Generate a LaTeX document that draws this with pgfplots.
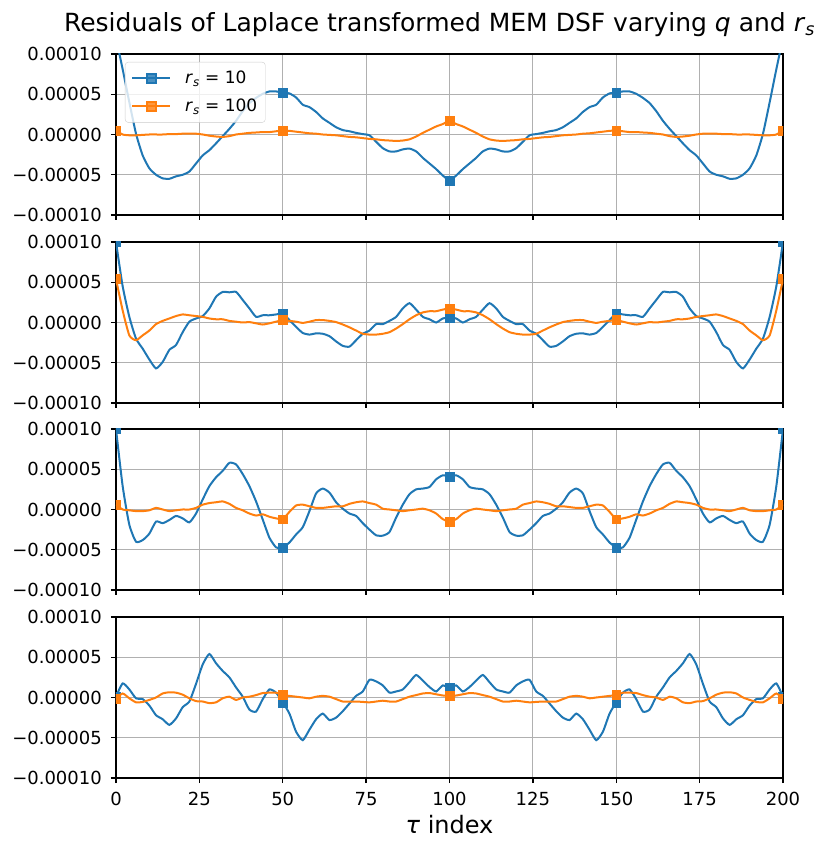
\documentclass[border=0pt]{standalone}
\usepackage{fontspec}
\setmainfont{DejaVu Sans}
\usepackage{pgfplots}
\usepackage{pgfplotstable}
\pgfplotsset{compat=1.18}
\definecolor{mblue}{HTML}{1F77B4}
\definecolor{morange}{HTML}{FF7F0E}
\definecolor{gridgray}{HTML}{B0B0B0}

\pgfplotstableread{
x b o
0 12e-5 0.5e-5
2 8.1e-5 0
4 4.0e-5 -0.1e-5
6 0.1e-5 -0.1e-5
8 -2.6e-5 -0.05e-5
10 -4.2e-5 0
12 -5.0e-5 0
14 -5.45e-5 0
16 -5.5e-5 0.05e-5
18 -5.2e-5 0.05e-5
20 -5.0e-5 0.1e-5
22 -4.6e-5 0.1e-5
24 -3.6e-5 0.1e-5
26 -2.6e-5 0
28 -1.95e-5 -0.15e-5
30 -1.1e-5 -0.25e-5
32 -0.2e-5 -0.3e-5
34 0.7e-5 -0.2e-5
36 1.7e-5 0
38 2.9e-5 0.1e-5
40 3.9e-5 0.2e-5
42 4.55e-5 0.25e-5
44 5.05e-5 0.3e-5
46 5.35e-5 0.3e-5
48 5.35e-5 0.4e-5
50 5.2e-5 0.5e-5
52 5.1e-5 0.45e-5
54 4.6e-5 0.35e-5
56 3.7e-5 0.25e-5
58 3.4e-5 0.15e-5
60 2.8e-5 0.1e-5
62 2.0e-5 0
64 1.45e-5 -0.05e-5
66 0.9e-5 -0.1e-5
68 0.55e-5 -0.2e-5
70 0.4e-5 -0.3e-5
72 0.2e-5 -0.35e-5
74 0.05e-5 -0.45e-5
76 -0.1e-5 -0.55e-5
78 -0.9e-5 -0.6e-5
80 -1.7e-5 -0.7e-5
82 -2.1e-5 -0.75e-5
84 -2.1e-5 -0.8e-5
86 -1.85e-5 -0.75e-5
88 -1.75e-5 -0.6e-5
90 -2.1e-5 -0.25e-5
92 -2.9e-5 0.2e-5
94 -3.6e-5 0.6e-5
96 -4.3e-5 1.0e-5
98 -5.1e-5 1.3e-5
100 -5.7e-5 1.7e-5
102 -5.1e-5 1.3e-5
104 -4.3e-5 1.0e-5
106 -3.6e-5 0.6e-5
108 -2.9e-5 0.2e-5
110 -2.1e-5 -0.25e-5
112 -1.75e-5 -0.6e-5
114 -1.85e-5 -0.75e-5
116 -2.1e-5 -0.8e-5
118 -2.1e-5 -0.75e-5
120 -1.7e-5 -0.7e-5
122 -0.9e-5 -0.6e-5
124 -0.1e-5 -0.55e-5
126 0.05e-5 -0.45e-5
128 0.2e-5 -0.35e-5
130 0.4e-5 -0.3e-5
132 0.55e-5 -0.2e-5
134 0.9e-5 -0.1e-5
136 1.45e-5 -0.05e-5
138 2.0e-5 0
140 2.8e-5 0.1e-5
142 3.4e-5 0.15e-5
144 3.7e-5 0.25e-5
146 4.6e-5 0.35e-5
148 5.1e-5 0.45e-5
150 5.2e-5 0.5e-5
152 5.35e-5 0.4e-5
154 5.35e-5 0.3e-5
156 5.05e-5 0.3e-5
158 4.55e-5 0.25e-5
160 3.9e-5 0.2e-5
162 2.9e-5 0.1e-5
164 1.7e-5 0
166 0.7e-5 -0.2e-5
168 -0.2e-5 -0.3e-5
170 -1.1e-5 -0.25e-5
172 -1.95e-5 -0.15e-5
174 -2.6e-5 0
176 -3.6e-5 0.1e-5
178 -4.6e-5 0.1e-5
180 -5.0e-5 0.1e-5
182 -5.2e-5 0.05e-5
184 -5.5e-5 0.05e-5
186 -5.45e-5 0
188 -5.0e-5 0
190 -4.2e-5 0
192 -2.6e-5 -0.05e-5
194 0.1e-5 -0.1e-5
196 4.0e-5 -0.1e-5
198 8.1e-5 0
200 12e-5 0.5e-5
}\tabA

\pgfplotstableread{
x b o
0 10.0e-5 5.4e-5
2 4.5e-5 1.5e-5
4 0.7e-5 -1.6e-5
6 -2.0e-5 -2.2e-5
8 -3.25e-5 -1.6e-5
10 -4.6e-5 -1.0e-5
12 -5.7e-5 -0.2e-5
14 -4.9e-5 0.2e-5
16 -3.4e-5 0.5e-5
18 -2.8e-5 0.8e-5
20 -1.2e-5 1.0e-5
22 0.1e-5 0.9e-5
24 0.5e-5 0.8e-5
26 0.8e-5 0.7e-5
28 1.75e-5 0.5e-5
30 3.2e-5 0.4e-5
32 3.8e-5 0.4e-5
34 3.75e-5 0.2e-5
36 3.8e-5 0.1e-5
38 2.8e-5 0.0
40 1.75e-5 0.05e-5
42 0.7e-5 -0.1e-5
44 0.9e-5 -0.25e-5
46 0.9e-5 -0.1e-5
48 1.0e-5 0.1e-5
50 1.1e-5 0.3e-5
52 0.3e-5 0.2e-5
54 -0.55e-5 0.1e-5
56 -1.3e-5 -0.05e-5
58 -1.5e-5 0.1e-5
60 -1.35e-5 0.3e-5
62 -1.4e-5 0.3e-5
64 -1.7e-5 0.2e-5
66 -2.35e-5 0.05e-5
68 -2.9e-5 -0.25e-5
70 -3.0e-5 -0.6e-5
72 -2.2e-5 -1.0e-5
74 -1.4e-5 -1.4e-5
76 -1.0e-5 -1.5e-5
78 -0.2e-5 -1.5e-5
80 -0.2e-5 -1.4e-5
82 0.2e-5 -1.2e-5
84 0.7e-5 -0.75e-5
86 1.75e-5 -0.2e-5
88 2.4e-5 0.4e-5
90 1.6e-5 0.9e-5
92 0.7e-5 1.25e-5
94 0.4e-5 1.4e-5
96 0.0 1.4e-5
98 0.5e-5 1.6e-5
100 0.6e-5 1.75e-5
102 0.5e-5 1.6e-5
104 0.0 1.4e-5
106 0.4e-5 1.4e-5
108 0.7e-5 1.25e-5
110 1.6e-5 0.9e-5
112 2.4e-5 0.4e-5
114 1.75e-5 -0.2e-5
116 0.7e-5 -0.75e-5
118 0.2e-5 -1.2e-5
120 -0.2e-5 -1.4e-5
122 -0.2e-5 -1.5e-5
124 -1.0e-5 -1.5e-5
126 -1.4e-5 -1.4e-5
128 -2.2e-5 -1.0e-5
130 -3.0e-5 -0.6e-5
132 -2.9e-5 -0.25e-5
134 -2.35e-5 0.05e-5
136 -1.7e-5 0.2e-5
138 -1.4e-5 0.3e-5
140 -1.35e-5 0.3e-5
142 -1.5e-5 0.1e-5
144 -1.3e-5 -0.05e-5
146 -0.55e-5 0.1e-5
148 0.3e-5 0.2e-5
150 1.1e-5 0.3e-5
152 1.0e-5 0.1e-5
154 0.9e-5 -0.1e-5
156 0.9e-5 -0.25e-5
158 0.7e-5 -0.1e-5
160 1.75e-5 0.05e-5
162 2.8e-5 0.0
164 3.8e-5 0.1e-5
166 3.75e-5 0.2e-5
168 3.8e-5 0.4e-5
170 3.2e-5 0.4e-5
172 1.75e-5 0.5e-5
174 0.8e-5 0.7e-5
176 0.5e-5 0.8e-5
178 0.1e-5 0.9e-5
180 -1.2e-5 1.0e-5
182 -2.8e-5 0.8e-5
184 -3.4e-5 0.5e-5
186 -4.9e-5 0.2e-5
188 -5.7e-5 -0.2e-5
190 -4.6e-5 -1.0e-5
192 -3.25e-5 -1.6e-5
194 -2.0e-5 -2.2e-5
196 0.7e-5 -1.6e-5
198 4.5e-5 1.5e-5
200 10.0e-5 5.4e-5
}\tabB

\pgfplotstableread{
x b o
0 10.0e-5 0.6e-5
2 2.9e-5 0.0
4 -1.9e-5 -0.1e-5
6 -4.0e-5 -0.2e-5
8 -3.8e-5 -0.2e-5
10 -3.0e-5 -0.1e-5
12 -1.5e-5 0.2e-5
14 -1.7e-5 0.0
16 -1.3e-5 -0.2e-5
18 -0.8e-5 -0.1e-5
20 -1.1e-5 0.0
22 -1.6e-5 0.0
24 -0.5e-5 0.2e-5
26 1.25e-5 0.6e-5
28 2.9e-5 0.8e-5
30 4.0e-5 0.9e-5
32 4.8e-5 1.0e-5
34 5.8e-5 0.7e-5
36 5.6e-5 0.2e-5
38 4.4e-5 -0.1e-5
40 2.9e-5 -0.5e-5
42 1.0e-5 -0.75e-5
44 -1.25e-5 -0.6e-5
46 -3.5e-5 -0.9e-5
48 -4.7e-5 -1.1e-5
50 -4.7e-5 -1.2e-5
52 -4.1e-5 -0.3e-5
54 -3.1e-5 0.5e-5
56 -2.2e-5 0.6e-5
58 -0.2e-5 0.4e-5
60 2.0e-5 0.2e-5
62 2.6e-5 0.2e-5
64 2.1e-5 0.3e-5
66 0.9e-5 0.4e-5
68 0.1e-5 0.4e-5
70 -0.5e-5 0.7e-5
72 -0.8e-5 0.9e-5
74 -1.7e-5 1.0e-5
76 -2.5e-5 0.8e-5
78 -3.2e-5 0.6e-5
80 -3.25e-5 0.1e-5
82 -2.8e-5 0.0
84 -1.0e-5 -0.1e-5
86 0.6e-5 -0.2e-5
88 1.9e-5 -0.1e-5
90 2.5e-5 0.0
92 2.6e-5 0.1e-5
94 2.8e-5 -0.1e-5
96 3.75e-5 -0.5e-5
98 4.25e-5 -1.2e-5
100 4.1e-5 -1.5e-5
102 4.25e-5 -1.2e-5
104 3.75e-5 -0.5e-5
106 2.8e-5 -0.1e-5
108 2.6e-5 0.1e-5
110 2.5e-5 0.0
112 1.9e-5 -0.1e-5
114 0.6e-5 -0.2e-5
116 -1.0e-5 -0.1e-5
118 -2.8e-5 0.0
120 -3.25e-5 0.1e-5
122 -3.2e-5 0.6e-5
124 -2.5e-5 0.8e-5
126 -1.7e-5 1.0e-5
128 -0.8e-5 0.9e-5
130 -0.5e-5 0.7e-5
132 0.1e-5 0.4e-5
134 0.9e-5 0.4e-5
136 2.1e-5 0.3e-5
138 2.6e-5 0.2e-5
140 2.0e-5 0.2e-5
142 -0.2e-5 0.4e-5
144 -2.2e-5 0.6e-5
146 -3.1e-5 0.5e-5
148 -4.1e-5 -0.3e-5
150 -4.7e-5 -1.2e-5
152 -4.7e-5 -1.1e-5
154 -3.5e-5 -0.9e-5
156 -1.25e-5 -0.6e-5
158 1.0e-5 -0.75e-5
160 2.9e-5 -0.5e-5
162 4.4e-5 -0.1e-5
164 5.6e-5 0.2e-5
166 5.8e-5 0.7e-5
168 4.8e-5 1.0e-5
170 4.0e-5 0.9e-5
172 2.9e-5 0.8e-5
174 1.25e-5 0.6e-5
176 -0.5e-5 0.2e-5
178 -1.6e-5 0.0
180 -1.1e-5 0.0
182 -0.8e-5 -0.1e-5
184 -1.3e-5 -0.2e-5
186 -1.7e-5 0.0
188 -1.5e-5 0.2e-5
190 -3.0e-5 -0.1e-5
192 -3.8e-5 -0.2e-5
194 -4.0e-5 -0.2e-5
196 -1.9e-5 -0.1e-5
198 2.9e-5 0.0
200 10.0e-5 0.6e-5
}\tabC

\pgfplotstableread{
x b o
0 0.1e-5 -0.1e-5
2 1.75e-5 0.5e-5
4 1.0e-5 -0.1e-5
6 -0.1e-5 -0.6e-5
8 -0.2e-5 -0.55e-5
10 -1.0e-5 -0.3e-5
12 -2.2e-5 0.0
14 -2.7e-5 0.5e-5
16 -3.4e-5 0.65e-5
18 -2.6e-5 0.6e-5
20 -1.2e-5 0.35e-5
22 -0.5e-5 -0.1e-5
24 1.7e-5 -0.45e-5
26 4.1e-5 -0.5e-5
28 5.4e-5 -0.7e-5
30 4.25e-5 -0.6e-5
32 3.3e-5 -0.1e-5
34 2.5e-5 0.1e-5
36 1.25e-5 -0.3e-5
38 0.1e-5 0.0
40 -1.5e-5 0.1e-5
42 -1.75e-5 0.3e-5
44 -0.2e-5 0.55e-5
46 1.0e-5 0.6e-5
48 0.6e-5 0.6e-5
50 -0.6e-5 0.3e-5
52 -2.0e-5 0.2e-5
54 -4.25e-5 0.1e-5
56 -5.3e-5 0.0
58 -4.0e-5 -0.1e-5
60 -2.7e-5 0.1e-5
62 -2.0e-5 0.2e-5
64 -2.8e-5 0.1e-5
66 -2.5e-5 -0.2e-5
68 -1.7e-5 -0.5e-5
70 -0.75e-5 -0.5e-5
72 0.2e-5 -0.5e-5
74 0.75e-5 -0.55e-5
76 2.2e-5 -0.6e-5
78 2.0e-5 -0.5e-5
80 1.5e-5 -0.4e-5
82 0.6e-5 -0.5e-5
84 0.75e-5 -0.5e-5
86 1.0e-5 -0.2e-5
88 1.9e-5 0.1e-5
90 2.8e-5 0.3e-5
92 2.1e-5 0.5e-5
94 1.3e-5 0.55e-5
96 0.75e-5 0.4e-5
98 1.5e-5 0.25e-5
100 1.2e-5 0.2e-5
102 1.5e-5 0.25e-5
104 0.75e-5 0.4e-5
106 1.3e-5 0.55e-5
108 2.1e-5 0.5e-5
110 2.8e-5 0.3e-5
112 1.9e-5 0.1e-5
114 1.0e-5 -0.2e-5
116 0.75e-5 -0.5e-5
118 0.6e-5 -0.5e-5
120 1.5e-5 -0.4e-5
122 2.0e-5 -0.5e-5
124 2.2e-5 -0.6e-5
126 0.75e-5 -0.55e-5
128 0.2e-5 -0.5e-5
130 -0.75e-5 -0.5e-5
132 -1.7e-5 -0.5e-5
134 -2.5e-5 -0.2e-5
136 -2.8e-5 0.1e-5
138 -2.0e-5 0.2e-5
140 -2.7e-5 0.1e-5
142 -4.0e-5 -0.1e-5
144 -5.3e-5 0.0
146 -4.25e-5 0.1e-5
148 -2.0e-5 0.2e-5
150 -0.6e-5 0.3e-5
152 0.6e-5 0.6e-5
154 1.0e-5 0.6e-5
156 -0.2e-5 0.55e-5
158 -1.75e-5 0.3e-5
160 -1.5e-5 0.1e-5
162 0.1e-5 0.0
164 1.25e-5 -0.3e-5
166 2.5e-5 0.1e-5
168 3.3e-5 -0.1e-5
170 4.25e-5 -0.6e-5
172 5.4e-5 -0.7e-5
174 4.1e-5 -0.5e-5
176 1.7e-5 -0.45e-5
178 -0.5e-5 -0.1e-5
180 -1.2e-5 0.35e-5
182 -2.6e-5 0.6e-5
184 -3.4e-5 0.65e-5
186 -2.7e-5 0.5e-5
188 -2.2e-5 0.0
190 -1.0e-5 -0.3e-5
192 -0.2e-5 -0.55e-5
194 -0.1e-5 -0.6e-5
196 1.0e-5 -0.1e-5
198 1.75e-5 0.5e-5
200 0.1e-5 -0.1e-5
}\tabD

\pgfplotsset{
  panel/.style={
    scale only axis, width=667pt, height=161pt,
    xmin=0, xmax=200, ymin=-0.0001, ymax=0.0001,
    xtick={0,25,50,75,100,125,150,175,200},
    ytick={-0.0001,-0.00005,0,0.00005,0.0001},
    yticklabels={−0.00010,−0.00005,0.00000,0.00005,0.00010},
    scaled y ticks=false, scaled x ticks=false,
    grid=major, grid style={color=gridgray, line width=1.1pt},
    tick align=outside, tick pos=left, major tick length=5pt,
    tick style={black, line width=1.4pt},
    axis line style={black, line width=1.1pt},
    tick label style={font=\fontsize{18}{18}\selectfont},
    yticklabel style={anchor=east, inner sep=0pt, xshift=-9pt},
    xticklabel style={anchor=north, inner sep=0pt, yshift=-9pt},
    clip marker paths=true,
    filter discard warning=false,
    legend image code/.code={\draw[mark repeat=2,mark phase=2] plot coordinates {(0pt,0pt) (19pt,0pt) (38pt,0pt)};},
  },
  bl/.style={color=mblue, line width=2pt, smooth, tension=0.35},
  ol/.style={color=morange, line width=2pt, smooth, tension=0.35},
  bm/.style={color=mblue, only marks, mark=square*, mark size=4.4pt, mark options={solid, fill=mblue}, each nth point=25, forget plot},
  om/.style={color=morange, only marks, mark=square*, mark size=4.4pt, mark options={solid, fill=morange}, each nth point=25, forget plot},
}

\begin{document}
\begin{tikzpicture}
\path[use as bounding box] (-116pt,-69pt) rectangle (707pt,778pt);

\begin{axis}[panel, at={(0pt,563pt)}, anchor=south west, xticklabels={},
  title={Residuals of Laplace transformed MEM DSF varying \textit{q} and \textit{r}\textsubscript{\textit{s}}},
  title style={at={(axis description cs:0.5,1)}, anchor=base, xshift=-10pt, yshift=16pt, font=\fontsize{25}{25}\selectfont, inner sep=0pt},
  legend style={at={(axis description cs:0,1)}, anchor=north west, xshift=9pt, yshift=-8pt,
    draw=black!20, fill=white, fill opacity=0.8, draw opacity=1, text opacity=1,
    rounded corners=3pt, font=\fontsize{17}{17}\selectfont, row sep=10pt, inner xsep=6pt, inner ysep=7pt},
  legend cell align=left]
\addplot[bl, forget plot] table[x=x, y=b]{\tabA};
\addplot[bm] table[x=x, y=b]{\tabA};
\addplot[ol, forget plot] table[x=x, y=o]{\tabA};
\addplot[om] table[x=x, y=o]{\tabA};
\addlegendimage{color=mblue, line width=2pt, mark=square*, mark size=4.4pt, mark options={solid, fill=mblue}}
\addlegendentry{\hspace{12pt}\textit{r}\textsubscript{\textit{s}} = 10}
\addlegendimage{color=morange, line width=2pt, mark=square*, mark size=4.4pt, mark options={solid, fill=morange}}
\addlegendentry{\hspace{12pt}\textit{r}\textsubscript{\textit{s}} = 100}
\end{axis}

\begin{axis}[panel, at={(0pt,375pt)}, anchor=south west, xticklabels={}]
\addplot[bl] table[x=x, y=b]{\tabB};
\addplot[bm] table[x=x, y=b]{\tabB};
\addplot[ol] table[x=x, y=o]{\tabB};
\addplot[om] table[x=x, y=o]{\tabB};
\end{axis}

\begin{axis}[panel, at={(0pt,188pt)}, anchor=south west, xticklabels={}]
\addplot[bl] table[x=x, y=b]{\tabC};
\addplot[bm] table[x=x, y=b]{\tabC};
\addplot[ol] table[x=x, y=o]{\tabC};
\addplot[om] table[x=x, y=o]{\tabC};
\end{axis}

\begin{axis}[panel, at={(0pt,0pt)}, anchor=south west,
  xticklabels={0,25,50,75,100,125,150,175,200},
  xlabel={\textit{τ} index},
  xlabel style={at={(axis description cs:0.5,0)}, anchor=base, yshift=-55pt, font=\fontsize{24}{24}\selectfont, inner sep=0pt}]
\addplot[bl] table[x=x, y=b]{\tabD};
\addplot[bm] table[x=x, y=b]{\tabD};
\addplot[ol] table[x=x, y=o]{\tabD};
\addplot[om] table[x=x, y=o]{\tabD};
\end{axis}
\end{tikzpicture}
\end{document}
